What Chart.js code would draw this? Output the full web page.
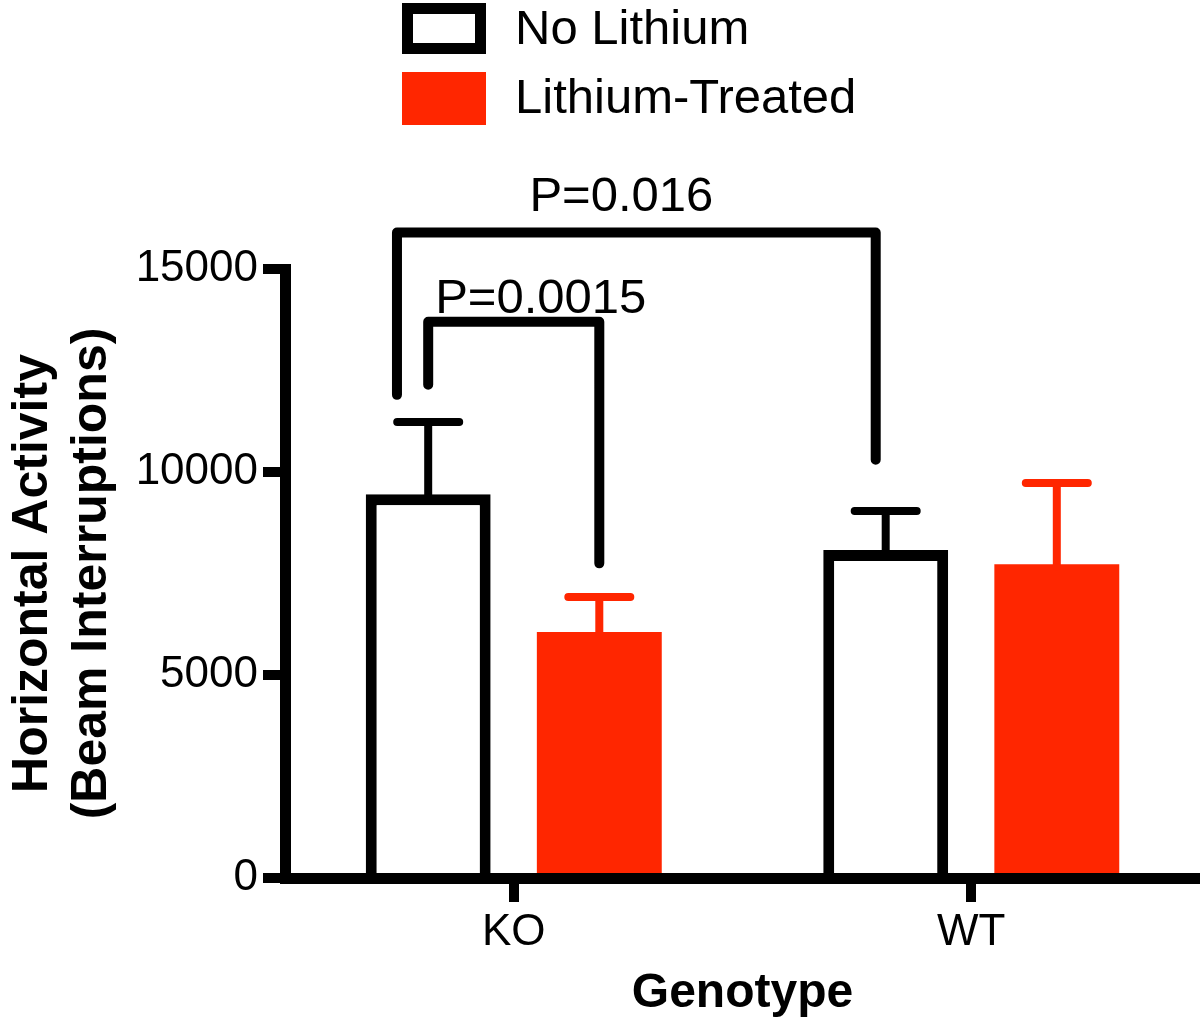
<!DOCTYPE html>
<html>
<head>
<meta charset="utf-8">
<script src="https://cdn.jsdelivr.net/npm/chart.js@4.4.0/dist/chart.umd.min.js"></script>
<style>
  html, body { margin: 0; padding: 0; background: #fff; }
  #wrap { width: 1200px; height: 1020px; }
</style>
</head>
<body>
<div id="wrap"><canvas id="chart" width="1200" height="1020"></canvas></div>
<script>
// ── DATA ──────────────────────────────────────────────
const genotypes     = ['KO', 'WT'];
const seriesLabels  = ['No Lithium', 'Lithium-Treated'];
const noLithium     = [9450, 8080];
const noLithiumSem  = [1780, 960];
const lithium       = [6060, 7730];
const lithiumSem    = [860, 2000];
const yTicks        = [0, 5000, 10000, 15000];

// significance brackets: [dataset, index] of each leg
const pLabels       = ['P=0.016', 'P=0.0015'];
const bracketTop    = [15900, 13700];
const bracketLeft   = [[0, 0], [0, 0]];
const bracketRight  = [[0, 1], [1, 0]];
const leftLegEnd    = [11900, 12150];
const rightLegEnd   = [10300, 7750];

const RED   = '#ff2600';
const BLACK = '#000';
const FONT  = "'Liberation Sans', Arial, Helvetica, sans-serif";

// ── PLUGINS ───────────────────────────────────────────
const errorBars = {
  id: 'errorBars',
  afterDatasetsDraw(chart) {
    const ctx = chart.ctx, y = chart.scales.y;
    const sems = [noLithiumSem, lithiumSem];
    const means = [noLithium, lithium];
    const colors = [BLACK, RED];
    ctx.save();
    ctx.lineWidth = 8;
    ctx.lineCap = 'round';
    chart.data.datasets.forEach((ds, d) => {
      chart.getDatasetMeta(d).data.forEach((bar, i) => {
        const yTop = y.getPixelForValue(means[d][i] + sems[d][i]);
        ctx.strokeStyle = colors[d];
        ctx.beginPath();
        ctx.moveTo(bar.x, bar.y + 2);
        ctx.lineTo(bar.x, yTop);
        ctx.moveTo(bar.x - 31, yTop);
        ctx.lineTo(bar.x + 31, yTop);
        ctx.stroke();
      });
    });
    ctx.restore();
  }
};

const brackets = {
  id: 'brackets',
  afterDraw(chart) {
    const ctx = chart.ctx, y = chart.scales.y;
    const legShift = [[-0.25, -0.08], [0, 0]];
    const textShift = [-15, 27];
    const textGap = [16, 4];
    ctx.save();
    ctx.strokeStyle = BLACK;
    ctx.lineWidth = 10;
    ctx.lineCap = 'round';
    ctx.lineJoin = 'round';
    pLabels.forEach((label, k) => {
      const bl = chart.getDatasetMeta(bracketLeft[k][0]).data[bracketLeft[k][1]];
      const br = chart.getDatasetMeta(bracketRight[k][0]).data[bracketRight[k][1]];
      const xl = bl.x + legShift[k][0] * bl.width;
      const xr = br.x + legShift[k][1] * br.width;
      const yt = y.getPixelForValue(bracketTop[k]);
      ctx.beginPath();
      ctx.moveTo(xl, y.getPixelForValue(leftLegEnd[k]));
      ctx.lineTo(xl, yt);
      ctx.lineTo(xr, yt);
      ctx.lineTo(xr, y.getPixelForValue(rightLegEnd[k]));
      ctx.stroke();
      ctx.fillStyle = BLACK;
      ctx.font = '49px ' + FONT;
      ctx.textAlign = 'center';
      ctx.textBaseline = 'alphabetic';
      ctx.fillText(label, (xl + xr) / 2 + textShift[k], yt - 5 - textGap[k]);
    });
    ctx.restore();
  }
};

const boxLegend = {
  id: 'boxLegend',
  afterDraw(chart) {
    const ctx = chart.ctx;
    const rows = [3, 72];
    ctx.save();
    chart.data.datasets.forEach((ds, d) => {
      const top = rows[d];
      if (ds.borderWidth > 0) {
        ctx.fillStyle = ds.backgroundColor;
        ctx.fillRect(402, top, 84, 51);
        ctx.strokeStyle = ds.borderColor;
        ctx.lineWidth = 11;
        ctx.strokeRect(402 + 5.5, top + 5.5, 84 - 11, 51 - 11);
      } else {
        ctx.fillStyle = ds.backgroundColor;
        ctx.fillRect(402, top, 84, 53);
      }
      ctx.fillStyle = BLACK;
      ctx.font = '49px ' + FONT;
      ctx.textAlign = 'left';
      ctx.textBaseline = 'alphabetic';
      ctx.fillText(ds.label, 515, top + 41);
    });
    ctx.restore();
  }
};

// ── CHART ─────────────────────────────────────────────
new Chart(document.getElementById('chart').getContext('2d'), {
  type: 'bar',
  data: {
    labels: genotypes,
    datasets: [
      {
        label: seriesLabels[0],
        data: noLithium,
        backgroundColor: '#fff',
        borderColor: BLACK,
        borderWidth: 11,
        borderSkipped: 'start',
      },
      {
        label: seriesLabels[1],
        data: lithium,
        backgroundColor: RED,
        borderColor: RED,
        borderWidth: 0,
      }
    ]
  },
  options: {
    responsive: false,
    animation: false,
    categoryPercentage: 0.748,
    barPercentage: 0.73,
    layout: { padding: { top: 269, left: 0, right: 0, bottom: 0 } },
    plugins: {
      legend: { display: false },
      tooltip: { enabled: false },
    },
    scales: {
      x: {
        afterFit: (s) => { s.height = 142; },
        grid: { drawOnChartArea: false, offset: false, tickLength: 24, lineWidth: 10, color: BLACK },
        border: { display: true, width: 11, color: BLACK },
        ticks: { color: BLACK, font: { family: FONT, size: 44 }, padding: 4 },
        title: {
          display: true, text: 'Genotype', color: BLACK,
          font: { family: FONT, size: 48, weight: 'bold', lineHeight: 1.1 },
          padding: { top: 0, bottom: 0 },
        },
      },
      y: {
        min: 0, max: 15000,
        afterFit: (s) => { s.width = 285; },
        afterBuildTicks: (s) => { s.ticks = yTicks.map(v => ({ value: v })); },
        grid: { drawOnChartArea: false, tickLength: 22, lineWidth: 10, color: BLACK },
        border: { display: true, width: 11, color: BLACK },
        ticks: { color: BLACK, font: { family: FONT, size: 44 }, padding: 5, callback: (v) => String(v) },
        title: {
          display: true, text: ['Horizontal Activity', '(Beam Interruptions)'], color: BLACK,
          font: { family: FONT, size: 50, weight: 'bold', lineHeight: 1.18 },
          padding: { top: 4, bottom: 0 },
        },
      }
    }
  },
  plugins: [errorBars, brackets, boxLegend]
});
</script>
</body>
</html>
